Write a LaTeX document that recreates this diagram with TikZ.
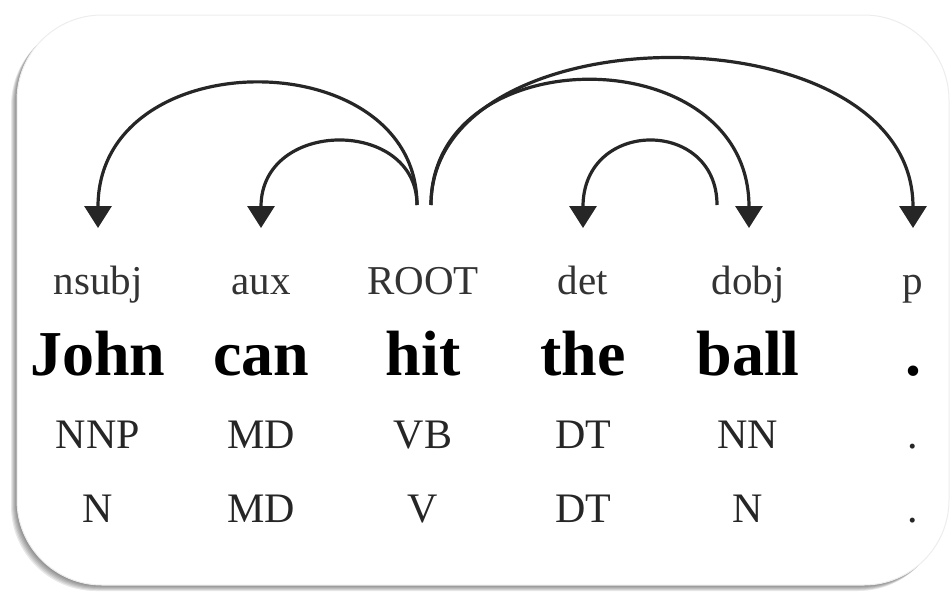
\documentclass[tikz,border=0pt]{standalone}
\usepackage{fontspec}
\setmainfont{Liberation Serif}
\usetikzlibrary{
  arrows.meta,
  positioning
}

\tikzset{
  dep/.style={line width=3.2pt, black!85, -{Triangle[width=27pt,length=22pt]}},
  rel/.style={anchor=base, text=black!80, font=\fontsize{41}{48}\selectfont},
  word/.style={anchor=base, font=\fontsize{64}{72}\selectfont\bfseries},
  tag/.style={anchor=base, text=black!85, font=\fontsize{42}{48}\selectfont},
  card/.style={rounded corners=85pt}
}

\begin{document}
\begin{tikzpicture}[x=1pt,y=-1pt]
  \useasboundingbox (0,0) rectangle (951,592);
  % card and its shadow
  \foreach \d in {1,...,6}
    \fill[card, black, opacity=0.09] (17-\d,15+\d) rectangle (949-\d,585+\d);
  \fill[card, white, draw=black!7, line width=1pt] (17,15) rectangle (949,585);

  % relation labels
  \node[rel] (nsubj) at (98,294)  {nsubj};
  \node[rel] (aux)   at (261,294) {aux};
  \node[rel] (root)  at (423,294) {ROOT};
  \node[rel] (det)   at (583,294) {det};
  \node[rel] (dobj)  at (748,294) {dobj};
  \node[rel] (p)     at (913,294) {p};

  % words
  \node[word] (John) at (98,375)  {John};
  \node[word] (can)  at (261,375) {can};
  \node[word] (hit)  at (423,375) {hit};
  \node[word] (the)  at (583,375) {the};
  \node[word] (ball) at (748,375) {ball};
  \node[word] (dot)  at (913,375) {.};

  % fine tags
  \node[tag] (tJohn) at (98,448)  {NNP};
  \node[tag] (tcan)  at (261,448) {MD};
  \node[tag] (thit)  at (423,448) {VB};
  \node[tag] (tthe)  at (583,448) {DT};
  \node[tag] (tball) at (748,448) {NN};
  \node[tag] (tdot)  at (913,448) {.};

  % coarse tags
  \node[tag] (cJohn) at (98,522)  {N};
  \node[tag] (ccan)  at (261,522) {MD};
  \node[tag] (chit)  at (423,522) {V};
  \node[tag] (cthe)  at (583,522) {DT};
  \node[tag] (cball) at (748,522) {N};
  \node[tag] (cdot)  at (913,522) {.};

  % arc ends
  \coordinate (hit-l)   at ([xshift=-6pt,yshift=89pt]root.base);
  \coordinate (hit-r)   at ([xshift=8pt,yshift=89pt]root.base);
  \coordinate (ball-l)  at ([xshift=-31pt,yshift=89pt]dobj.base);
  \coordinate (in-nsubj) at ([yshift=66pt]nsubj.base);
  \coordinate (in-aux)   at ([yshift=66pt]aux.base);
  \coordinate (in-det)   at ([yshift=66pt]det.base);
  \coordinate (in-dobj)  at ([xshift=1pt,yshift=66pt]dobj.base);
  \coordinate (in-p)     at ([yshift=66pt]p.base);

  % dependency arcs
  \draw[dep] (hit-l) .. controls +(0,-164) and +(0,-188) .. (in-nsubj);
  \draw[dep] (hit-l) .. controls +(0,-87) and +(0,-110) .. (in-aux);
  \draw[dep] (hit-r) .. controls +(0,-168) and +(0,-191) .. (in-dobj);
  \draw[dep] (hit-r) .. controls +(0,-197) and +(0,-220) .. (in-p);
  \draw[dep] (ball-l) .. controls +(0,-87) and +(0,-110) .. (in-det);
\end{tikzpicture}
\end{document}
